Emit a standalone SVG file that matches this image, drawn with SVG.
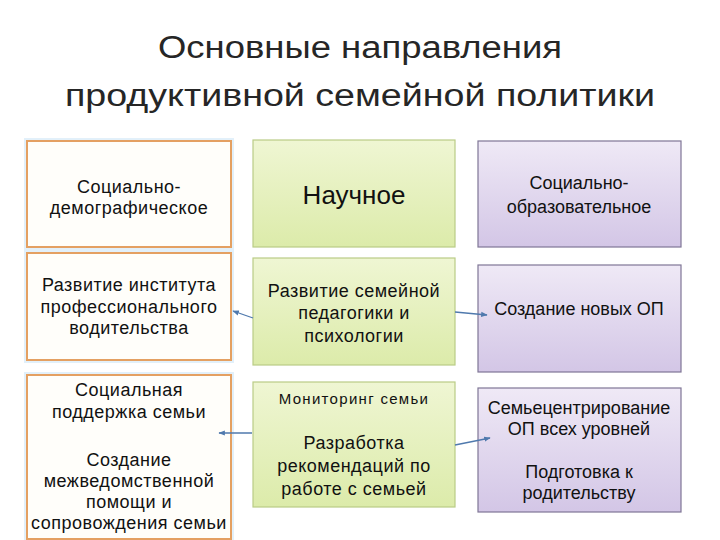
<svg xmlns="http://www.w3.org/2000/svg" width="720" height="540" viewBox="0 0 720 540">
<style>
.t{font-family:"Liberation Sans",Arial,sans-serif;font-size:18px;fill:#111;text-anchor:middle}
.l .t{letter-spacing:0.5px}
.m .t{letter-spacing:0.5px}
.title{font-family:"Liberation Sans",Arial,sans-serif;font-size:31px;fill:#262626;text-anchor:middle}
.lb{fill:#fffefa;stroke:#e4a062;stroke-width:2}
.glow{fill:none;stroke:#e2f0fa;stroke-width:6}
.mb{fill:url(#gg);stroke:#b9cc86;stroke-width:1.2}
.rb{fill:url(#pg);stroke:#7f7696;stroke-width:1.2}
.c{stroke:#4f79ad;stroke-width:1.3;fill:none;marker-end:url(#ah)}
</style>
<defs>
<linearGradient id="gg" x1="0" y1="0" x2="0" y2="1"><stop offset="0" stop-color="#eff6d3"/><stop offset="1" stop-color="#dcebaa"/></linearGradient>
<linearGradient id="pg" x1="0" y1="0" x2="0" y2="1"><stop offset="0" stop-color="#efe9f6"/><stop offset="1" stop-color="#d3c6e6"/></linearGradient>
<marker id="ah" viewBox="0 0 10 10" refX="9" refY="5" markerWidth="5" markerHeight="5" orient="auto"><path d="M0,1 L10,5 L0,9 z" fill="#4f79ad"/></marker>
</defs>
<rect width="720" height="540" fill="#fff"/>
<g id="title">
<text class="title" x="360" y="58" textLength="404" lengthAdjust="spacingAndGlyphs">Основные направления</text>
<text class="title" x="360" y="106" textLength="590" lengthAdjust="spacingAndGlyphs">продуктивной семейной политики</text>
</g>
<g id="n1" class="l"><rect class="glow" x="27" y="141" width="204" height="106"/><rect class="lb" x="27" y="141" width="204" height="106"/>
<text class="t" x="129" y="193">Социально-</text><text class="t" x="129" y="214">демографическое</text></g>
<g id="n2" class="l"><rect class="glow" x="27" y="253" width="204" height="107"/><rect class="lb" x="27" y="253" width="204" height="107"/>
<text class="t" x="129" y="291">Развитие института</text><text class="t" x="129" y="313">профессионального</text><text class="t" x="129" y="334">водительства</text></g>
<g id="n3" class="l"><rect class="glow" x="27" y="375" width="204" height="164"/><rect class="lb" x="27" y="375" width="204" height="164"/>
<text class="t" x="129" y="396">Социальная</text><text class="t" x="129" y="418">поддержка семьи</text>
<text class="t" x="129" y="466">Создание</text><text class="t" x="129" y="487">межведомственной</text><text class="t" x="129" y="508">помощи и</text><text class="t" x="129" y="529">сопровождения семьи</text></g>
<g id="n4" class="m"><rect class="mb" x="253" y="140" width="202" height="107"/>
<text class="t" x="354" y="204" style="font-size:26px;letter-spacing:0">Научное</text></g>
<g id="n5" class="m"><rect class="mb" x="253" y="258" width="202" height="107"/>
<text class="t" x="354" y="297">Развитие семейной</text><text class="t" x="354" y="319">педагогики и</text><text class="t" x="354" y="342">психологии</text></g>
<g id="n6" class="m"><rect class="mb" x="253" y="382" width="202" height="125"/>
<text class="t" x="354" y="404" style="font-size:15px;letter-spacing:1.3px">Мониторинг семьи</text>
<text class="t" x="354" y="449">Разработка</text><text class="t" x="354" y="472">рекомендаций по</text><text class="t" x="354" y="495">работе с семьей</text></g>
<g id="n7"><rect class="rb" x="478" y="141" width="203" height="106"/>
<text class="t" x="579" y="189">Социально-</text><text class="t" x="579" y="213">образовательное</text></g>
<g id="n8"><rect class="rb" x="478" y="265" width="203" height="107"/>
<text class="t" x="579" y="315">Создание новых ОП</text></g>
<g id="n9"><rect class="rb" x="478" y="388" width="203" height="124"/>
<text class="t" x="579" y="414">Семьецентрирование</text><text class="t" x="579" y="435">ОП всех уровней</text>
<text class="t" x="579" y="478">Подготовка к</text><text class="t" x="579" y="499">родительству</text></g>
<g id="connectors">
<path class="c" d="M253,318 L233,311"/>
<path class="c" d="M455,312 L487,315"/>
<path class="c" d="M252,433 L219,433"/>
<path class="c" d="M455,445 L490,438"/>
</g>
</svg>
